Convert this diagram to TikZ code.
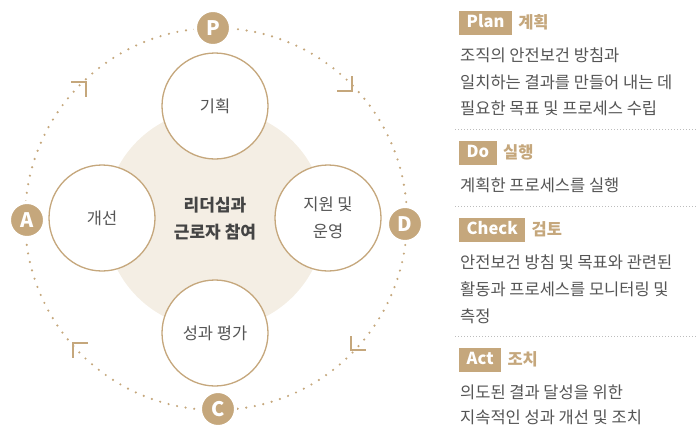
\documentclass[tikz,border=0pt]{standalone}
\usepackage{fontspec}
\setmainfont{Noto Sans CJK KR}
\definecolor{tan}{HTML}{C5A77C}
\definecolor{beige}{HTML}{F4EEE4}
\definecolor{txt}{HTML}{555555}
\definecolor{dark}{HTML}{444444}
\definecolor{sepc}{HTML}{BDBDBD}
\tikzset{
  stage/.style={circle, draw=tan, line width=1.3pt, fill=white, minimum size=106pt, inner sep=0pt,
    text=txt, font=\fontsize{16.5}{27.5}\selectfont, align=center},
  badge/.style={circle, fill=tan, draw=white, line width=3pt, minimum size=35pt, inner sep=0pt,
    text=white, font=\fontsize{20}{22}\selectfont\bfseries},
  bracket/.style={draw=tan, line width=2pt},
  sepline/.style={draw=sepc, line width=1pt, dash pattern=on 1pt off 2pt},
  lab/.style={fill=tan, text=white, font=\fontsize{16.5}{18}\selectfont\bfseries, inner xsep=7.5pt,
    inner ysep=0pt, text height=12pt, text depth=2pt, minimum height=24pt, anchor=west},
  head/.style={text=tan, font=\fontsize{16.5}{18}\selectfont\bfseries, inner sep=0pt, anchor=west},
  body/.style={text=txt, font=\fontsize{16.5}{18}\selectfont, inner sep=0pt, anchor=west}
}
\begin{document}
\begin{tikzpicture}[x=1pt,y=-1pt]
\useasboundingbox (0,0) rectangle (696,434);
% background disc
\fill[beige] (215,219) circle (110);
% dotted loop
\draw[tan, line width=2.4pt, line cap=round, dash pattern=on 0pt off 8.7pt] (216,219) circle (191);
% direction brackets
\draw[bracket] (71,82) -- (86,82) -- (86,97);
\draw[bracket] (352,76) -- (352,91) -- (337,91);
\draw[bracket] (351,336) -- (351,350) -- (366,350);
\draw[bracket] (88,343) -- (73,343) -- (73,358);
% stages
\node[stage] (plan) at (215,106) {기획};
\node[stage] (do) at (328,218) {지원 및\\운영};
\node[stage] (check) at (215,333) {성과 평가};
\node[stage] (act) at (102,218) {개선};
\node[text=dark, font=\fontsize{17}{27}\selectfont\bfseries, align=center] (core) at (215,218.5) {리더십과\\근로자 참여};
% badges
\node[badge] (P) at (213,28) {P};
\node[badge] (D) at (405,224) {D};
\node[badge] (C) at (218,409) {C};
\node[badge] (A) at (27,220) {A};
% right panel
\node[lab] (planlab) at (459,22.5) {Plan};
\node[head] (planhead) at ([xshift=6pt]planlab.east) {계획};
\node[body] (p1) at (460,55) {조직의 안전보건 방침과};
\node[body] (p2) at (460,82) {일치하는 결과를 만들어 내는 데};
\node[body] (p3) at (460,108) {필요한 목표 및 프로세스 수립};
\draw[sepline] (455,129) -- (696,129);
\node[lab] (dolab) at (459,152.5) {Do};
\node[head] (dohead) at ([xshift=6pt]dolab.east) {실행};
\node[body] (d1) at (460,185) {계획한 프로세스를 실행};
\draw[sepline] (455,206) -- (696,206);
\node[lab] (checklab) at (459,229.5) {Check};
\node[head] (checkhead) at ([xshift=6pt]checklab.east) {검토};
\node[body] (c1) at (460,262) {안전보건 방침 및 목표와 관련된};
\node[body] (c2) at (460,289) {활동과 프로세스를 모니터링 및};
\node[body] (c3) at (460,316) {측정};
\draw[sepline] (455,336) -- (696,336);
\node[lab] (actlab) at (459,359.5) {Act};
\node[head] (acthead) at ([xshift=6pt]actlab.east) {조치};
\node[body] (a1) at (460,392) {의도된 결과 달성을 위한};
\node[body] (a2) at (460,417) {지속적인 성과 개선 및 조치};
\end{tikzpicture}
\end{document}
